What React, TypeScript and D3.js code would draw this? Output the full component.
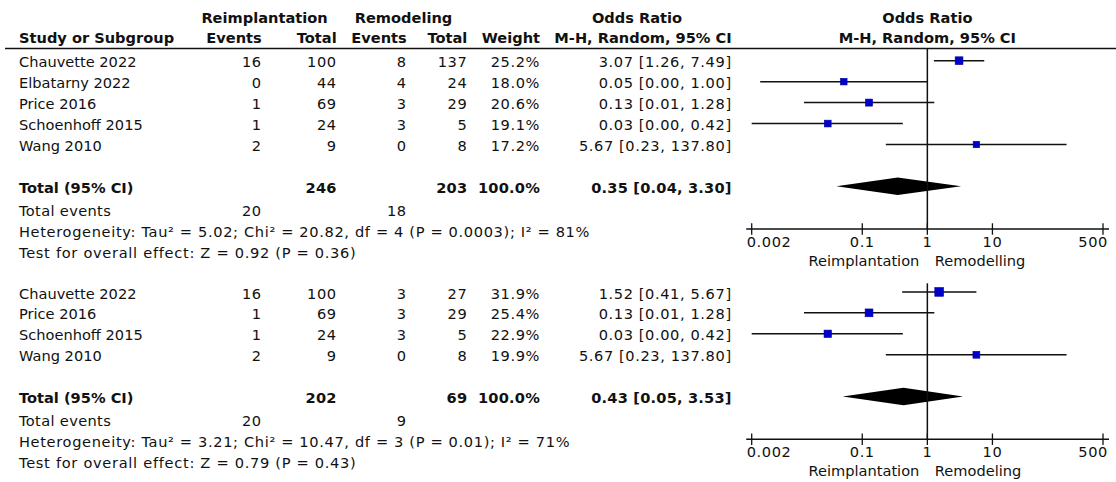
import React from "react";
import * as d3 from "d3";

// ---------- data ----------
const studiesA = ["Chauvette 2022", "Elbatarny 2022", "Price 2016", "Schoenhoff 2015", "Wang 2010"];
const eventsReimpA = [16, 0, 1, 1, 2];
const totalReimpA = [100, 44, 69, 24, 9];
const eventsRemodA = [8, 4, 3, 3, 0];
const totalRemodA = [137, 24, 29, 5, 8];
const weightA = [25.2, 18.0, 20.6, 19.1, 17.2];
const orA = [3.07, 0.052, 0.127, 0.0295, 5.67];
const loA = [1.26, 0.0027, 0.0127, 0.0019, 0.23];
const hiA = [7.49, 1.0, 1.28, 0.42, 137.8];

const studiesB = ["Chauvette 2022", "Price 2016", "Schoenhoff 2015", "Wang 2010"];
const eventsReimpB = [16, 1, 1, 2];
const totalReimpB = [100, 69, 24, 9];
const eventsRemodB = [3, 3, 3, 0];
const totalRemodB = [27, 29, 5, 8];
const weightB = [31.9, 25.4, 22.9, 19.9];
const orB = [1.52, 0.127, 0.0295, 5.67];
const loB = [0.41, 0.0127, 0.0019, 0.23];
const hiB = [5.67, 1.28, 0.42, 137.8];

const pooledOR = [0.35, 0.43];
const pooledLo = [0.04, 0.05];
const pooledHi = [3.3, 3.53];
const sumReimp = [246, 202];
const sumRemod = [203, 69];
const sumEventsReimp = [20, 20];
const sumEventsRemod = [18, 9];
const heterogeneity = [
  "Heterogeneity: Tau² = 5.02; Chi² = 20.82, df = 4 (P = 0.0003); I² = 81%",
  "Heterogeneity: Tau² = 3.21; Chi² = 10.47, df = 3 (P = 0.01); I² = 71%",
];
const overallEffect = [
  "Test for overall effect: Z = 0.92 (P = 0.36)",
  "Test for overall effect: Z = 0.79 (P = 0.43)",
];
const axisTicks = [0.002, 0.1, 1, 10, 500];
const favourLeft = ["Reimplantation", "Reimplantation"];
const favourRight = ["Remodelling", "Remodeling"];

// ---------- layout ----------
const W = 1116;
const H = 482;
const FONT = "DejaVu Sans";
const FS = 14.6;
const NUM_LS = 0.6;
const ROW = 20.95;
const col = { name: 19, evA: 261.7, totA: 336.7, evB: 406.7, totB: 467.3, weight: 540, or: 731.7 };
const x = d3.scaleLog().domain([0.002, 500]).range([751.7, 1103]);
const f2 = d3.format(".2f");
const f1 = d3.format(".1f");

type PanelProps = {
  idx: number;
  firstBaseline: number;
  lineTop: number;
  studies: string[];
  evR: number[];
  totR: number[];
  evM: number[];
  totM: number[];
  weight: number[];
  or: number[];
  lo: number[];
  hi: number[];
};

function Num({ x: xx, y, children, bold }: any) {
  return (
    <text x={xx} y={y} textAnchor="end" letterSpacing={bold ? 0.2 : NUM_LS} fontWeight={bold ? "bold" : "normal"}>
      {children}
    </text>
  );
}

function Panel(p: PanelProps) {
  const rowY = d3
    .scaleLinear()
    .domain([0, 1])
    .range([p.firstBaseline, p.firstBaseline + ROW]);
  const n = p.studies.length;
  const totalY = rowY(n + 1);
  const axisY = totalY + 36;
  const [d0, d1] = x.domain();
  const clamp = (v: number) => Math.max(d0, Math.min(d1, v));
  const i = p.idx;
  return (
    <g>
      {p.studies.map((s, k) => {
        const by = rowY(k);
        const cy = by - 6.6;
        const size = 1.55 * Math.sqrt(p.weight[k]);
        return (
          <g key={s}>
            <text x={col.name} y={by}>{s}</text>
            <Num x={col.evA} y={by}>{p.evR[k]}</Num>
            <Num x={col.totA} y={by}>{p.totR[k]}</Num>
            <Num x={col.evB} y={by}>{p.evM[k]}</Num>
            <Num x={col.totB} y={by}>{p.totM[k]}</Num>
            <Num x={col.weight} y={by}>{f1(p.weight[k]) + "%"}</Num>
            <Num x={col.or} y={by}>{`${f2(p.or[k])} [${f2(p.lo[k])}, ${f2(p.hi[k])}]`}</Num>
            <line x1={x(clamp(p.lo[k]))} x2={x(clamp(p.hi[k]))} y1={cy} y2={cy} stroke="#111" strokeWidth={1.5} />
            <rect x={x(p.or[k]) - size / 2} y={cy - size / 2} width={size} height={size} fill="#0000cc" stroke="#00009a" strokeWidth={0.6} />
          </g>
        );
      })}
      {/* total row */}
      <text x={col.name} y={totalY} fontWeight="bold">Total (95% CI)</text>
      <Num x={col.totA} y={totalY} bold>{sumReimp[i]}</Num>
      <Num x={col.totB} y={totalY} bold>{sumRemod[i]}</Num>
      <Num x={col.weight} y={totalY} bold>100.0%</Num>
      <Num x={col.or} y={totalY} bold>{`${f2(pooledOR[i])} [${f2(pooledLo[i])}, ${f2(pooledHi[i])}]`}</Num>
      <text x={col.name} y={totalY + 22.5} letterSpacing={0.35}>Total events</text>
      <Num x={col.evA} y={totalY + 22.5}>{sumEventsReimp[i]}</Num>
      <Num x={col.evB} y={totalY + 22.5}>{sumEventsRemod[i]}</Num>
      <text x={col.name} y={totalY + 44} letterSpacing={0.65}>{heterogeneity[i]}</text>
      <text x={col.name} y={totalY + 65} letterSpacing={0.7}>{overallEffect[i]}</text>
      {/* diamond */}
      <polygon
        points={[
          [x(pooledLo[i]), totalY - 6.8],
          [x(pooledOR[i]), totalY - 6.8 - 8.8],
          [x(pooledHi[i]), totalY - 6.8],
          [x(pooledOR[i]), totalY - 6.8 + 8.8],
        ]
          .map((q) => q.join(","))
          .join(" ")}
        fill="#000"
      />
      {/* null line */}
      <line x1={x(1)} x2={x(1)} y1={p.lineTop} y2={axisY} stroke="#111" strokeWidth={1.5} />
      {/* axis */}
      <line x1={x(d0) - 5.5} x2={x(d1) + 6} y1={axisY} y2={axisY} stroke="#111" strokeWidth={1.5} />
      {axisTicks.map((t, k) => (
        <g key={t}>
          <line x1={x(t)} x2={x(t)} y1={axisY - 5.7} y2={axisY + 5.7} stroke="#111" strokeWidth={1.3} />
          <text
            x={k === 0 ? x(t) - 5 : k === axisTicks.length - 1 ? x(t) + 5 : x(t)}
            y={axisY + 18}
            textAnchor={k === 0 ? "start" : k === axisTicks.length - 1 ? "end" : "middle"}
            letterSpacing={NUM_LS}
          >
            {String(t)}
          </text>
        </g>
      ))}
      <text x={x(1) - 8} y={axisY + 36.5} textAnchor="end">{favourLeft[i]}</text>
      <text x={x(1) + 7.5} y={axisY + 36.5} textAnchor="start">{favourRight[i]}</text>
    </g>
  );
}

export default function App() {
  const h1 = 22.7;
  const h2 = 43.3;
  return (
    <svg
      width={W}
      height={H}
      viewBox={`0 0 ${W} ${H}`}
      style={{ position: "absolute", left: 0, top: 0, background: "#fff" }}
      fontFamily={FONT}
      fontSize={FS}
      fill="#111"
    >
      <rect x={0} y={0} width={W} height={H} fill="#fff" />
      {/* headers */}
      <g fontWeight="bold">
        <text x={264.5} y={h1} textAnchor="middle">Reimplantation</text>
        <text x={403.5} y={h1} textAnchor="middle">Remodeling</text>
        <text x={637} y={h1} textAnchor="middle">Odds Ratio</text>
        <text x={x(1)} y={h1} textAnchor="middle">Odds Ratio</text>
        <text x={col.name} y={h2}>Study or Subgroup</text>
        <text x={col.evA} y={h2} textAnchor="end">Events</text>
        <text x={col.totA} y={h2} textAnchor="end">Total</text>
        <text x={col.evB} y={h2} textAnchor="end">Events</text>
        <text x={col.totB} y={h2} textAnchor="end">Total</text>
        <text x={col.weight} y={h2} textAnchor="end">Weight</text>
        <text x={col.or} y={h2} textAnchor="end">M-H, Random, 95% CI</text>
        <text x={x(1)} y={h2} textAnchor="middle">M-H, Random, 95% CI</text>
      </g>
      <line x1={5} x2={W} y1={48.5} y2={48.5} stroke="#111" strokeWidth={1.5} />
      <Panel
        idx={0}
        firstBaseline={67.3}
        lineTop={48.5}
        studies={studiesA}
        evR={eventsReimpA}
        totR={totalReimpA}
        evM={eventsRemodA}
        totM={totalRemodA}
        weight={weightA}
        or={orA}
        lo={loA}
        hi={hiA}
      />
      <Panel
        idx={1}
        firstBaseline={298.5}
        lineTop={283.3}
        studies={studiesB}
        evR={eventsReimpB}
        totR={totalReimpB}
        evM={eventsRemodB}
        totM={totalRemodB}
        weight={weightB}
        or={orB}
        lo={loB}
        hi={hiB}
      />
    </svg>
  );
}
